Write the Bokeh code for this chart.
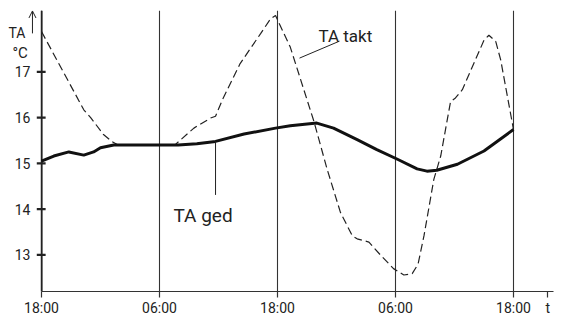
from bokeh.plotting import figure
from bokeh.models import Range1d, FixedTicker, Arrow, OpenHead, Label
from bokeh.core.properties import value
from bokeh.embed import file_html
from bokeh.resources import INLINE

# ---- data (hours from first 18:00, temperature in °C) ----
ged_hours = [0, 1.25, 2.78, 4.3, 5.3, 6.0, 7.35, 12.0, 13.9, 15.8, 17.7, 20.6,
             23.8, 25.3, 28.0, 29.7, 32.1, 34.1, 36.2, 38.2, 39.2, 40.2, 42.3, 45.0, 48.0]
ged_temp = [15.05, 15.16, 15.25, 15.18, 15.25, 15.34, 15.40, 15.40, 15.40, 15.43, 15.48, 15.64,
            15.77, 15.82, 15.88, 15.77, 15.52, 15.30, 15.09, 14.88, 14.83, 14.85, 14.98, 15.27, 15.74]

takt_hours = [0, 4.3, 5.0, 6.3, 7.2, 7.7, 13.6, 15.5, 17.2, 17.7, 18.4, 20.2, 22.3, 23.3,
              23.8, 25.3, 27.7, 29.05, 30.4, 31.6, 32.1, 33.3, 34.5, 35.8, 36.85, 37.7,
              38.3, 38.9, 39.9, 40.6, 41.6, 42.1, 42.8, 45.0, 45.5, 46.2, 46.7, 48.0]
takt_temp = [17.88, 16.17, 16.0, 15.63, 15.47, 15.41, 15.41, 15.77, 15.99, 16.03, 16.39, 17.18,
             17.84, 18.16, 18.23, 17.54, 15.92, 14.87, 13.93, 13.42, 13.35, 13.28, 12.99, 12.70,
             12.56, 12.59, 12.80, 13.42, 14.65, 15.16, 16.35, 16.43, 16.61, 17.69, 17.80, 17.66,
             17.26, 15.74]

x_ticks = [0, 12, 24, 36, 48]
x_tick_labels = ["18:00", "06:00", "18:00", "06:00", "18:00"]
y_ticks = [13, 14, 15, 16, 17]
y_tick_labels = ["13", "14", "15", "16", "17"]

t_caption_pos = 51.5
t_caption_text = "t"

# leader lines (data coords)
ged_leader_x = [17.7, 17.7]
ged_leader_y = [15.48, 14.31]
takt_leader_x = [26.24, 30.3]
takt_leader_y = [17.30, 17.67]

FONT = "Roboto"
INK = "#222222"

X_MIN, X_MAX = -4.17, 52.68
Y_MIN, Y_MAX = 12.20, 18.34
Y_AXIS_AT = 0.02
Y_LABEL_X = -1.12

p = figure(width=559, height=318, output_backend="svg", toolbar_location=None,
           x_range=Range1d(X_MIN, X_MAX), y_range=Range1d(Y_MIN, Y_MAX),
           min_border_left=0, min_border_right=0, min_border_top=10, min_border_bottom=20)
p.outline_line_color = None
p.background_fill_color = "white"
p.border_fill_color = "white"

# x axis (at frame bottom)
p.xaxis.ticker = FixedTicker(ticks=x_ticks + [t_caption_pos])
overrides = {t: l for t, l in zip(x_ticks, x_tick_labels)}
overrides[t_caption_pos] = t_caption_text
p.xaxis.major_label_overrides = overrides
p.xaxis.major_tick_in = 0
p.xaxis.major_tick_out = 6
p.xaxis.minor_tick_line_color = None
p.xaxis.axis_line_color = "#333333"
p.xaxis.axis_line_width = 1.2
p.xaxis.major_tick_line_color = "#333333"
p.xaxis.major_tick_line_width = 1.2
p.xaxis.major_label_standoff = 2
p.xaxis.major_label_text_font = FONT
p.xaxis.major_label_text_font_size = "14px"
p.xaxis.major_label_text_color = INK
p.xaxis.bounds = (0, 52.1)

# the y axis is drawn inside the frame at t = 0
p.yaxis.visible = False
p.segment(x0=[Y_AXIS_AT], y0=[Y_MIN], x1=[Y_AXIS_AT], y1=[Y_MAX], line_color=INK, line_width=1.8)
p.segment(x0=[Y_AXIS_AT - 0.5] * len(y_ticks), y0=y_ticks, x1=[Y_AXIS_AT + 0.4] * len(y_ticks),
          y1=y_ticks, line_color=INK, line_width=2.2)
p.text([Y_LABEL_X] * len(y_ticks), y_ticks, text=y_tick_labels, text_align="right",
       text_baseline="middle", text_font=value(FONT), text_font_size="14px", text_color=INK)

p.xgrid.ticker = FixedTicker(ticks=x_ticks)
p.xgrid.grid_line_color = "#333333"
p.xgrid.grid_line_width = 1.1
p.ygrid.grid_line_color = None

# series
p.line(takt_hours, takt_temp, line_color=INK, line_width=1.2, line_dash="8 4")
p.line(ged_hours, ged_temp, line_color="#111111", line_width=3, line_join="round")

# leaders
p.line(ged_leader_x, ged_leader_y, line_color=INK, line_width=1)
p.line(takt_leader_x, takt_leader_y, line_color=INK, line_width=1)

# labels
p.add_layout(Label(x=13.42, y=13.85, text="TA ged", text_font=FONT, text_font_size="19px",
                   text_color=INK, text_baseline="alphabetic"))
p.add_layout(Label(x=28.17, y=17.78, text="TA takt", text_font=FONT, text_font_size="17px",
                   text_color=INK, text_baseline="alphabetic"))

# y axis caption and arrow
p.add_layout(Label(x=-3.36, y=17.84, text="TA", text_font=FONT, text_font_size="14px",
                   text_color=INK, text_baseline="alphabetic"))
p.add_layout(Label(x=-2.95, y=17.41, text="°C", text_font=FONT, text_font_size="15px",
                   text_color=INK, text_baseline="alphabetic"))
p.add_layout(Arrow(end=OpenHead(size=7, line_width=1, line_color=INK), x_start=-0.92, y_start=17.84,
                   x_end=-0.92, y_end=18.33, line_color=INK, line_width=1))

open("out.html", "w").write(file_html(p, INLINE))
